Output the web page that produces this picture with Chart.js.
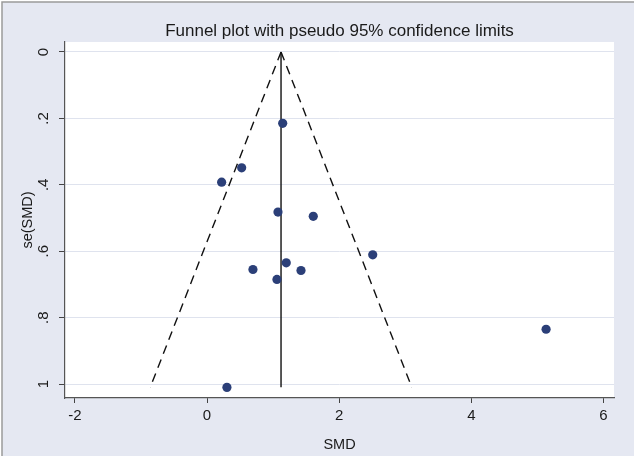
<!DOCTYPE html>
<html>
<head>
<meta charset="utf-8">
<script src="https://cdn.jsdelivr.net/npm/chart.js@4/dist/chart.umd.min.js"></script>
<style>
  html, body { margin: 0; padding: 0; background: #ffffff; }
  #wrap { width: 634px; height: 460px; position: relative; }
</style>
</head>
<body>
<div id="wrap"><canvas id="c" width="634" height="460"></canvas></div>
<script>
// ---- data ----
const smd    = [1.145, 0.524, 0.221, 1.074, 1.608, 2.508, 0.695, 1.199, 1.422, 1.058, 5.132, 0.301];
const seSmd  = [0.215, 0.349, 0.392, 0.482, 0.495, 0.611, 0.655, 0.635, 0.658, 0.685, 0.835, 1.010];
const funnelSe    = [0, 1.01];
const funnelLower = [1.12, -0.86];
const funnelUpper = [1.12, 3.10];
const pooledSmd   = [1.12, 1.12];
const xTicks = [-2, 0, 2, 4, 6];
const xTickLabels = ['-2', '0', '2', '4', '6'];
const yTicks = [0, 0.2, 0.4, 0.6, 0.8, 1];
const yTickLabels = ['0', '.2', '.4', '.6', '.8', '1'];
const titleText = 'Funnel plot with pseudo 95% confidence limits';
const xTitle = 'SMD';
const yTitle = 'se(SMD)';

const pts = (xs, ys) => xs.map((x, i) => ({ x: x, y: ys[i] }));

const bgPlugin = {
  id: 'bg',
  beforeDraw(chart) {
    const ctx = chart.ctx, a = chart.chartArea;
    ctx.save();
    ctx.fillStyle = '#ffffff';
    ctx.fillRect(0, 0, chart.width, chart.height);
    ctx.fillStyle = '#e5e8f2';
    ctx.fillRect(2, 2, chart.width - 2, 454);
    ctx.strokeStyle = '#9a9a9a';
    ctx.lineWidth = 1.5;
    ctx.beginPath();
    ctx.moveTo(2, 456); ctx.lineTo(2, 2); ctx.lineTo(chart.width, 2);
    ctx.stroke();
    ctx.fillStyle = '#ffffff';
    ctx.fillRect(a.left, a.top, a.right - a.left, a.bottom - a.top);
    ctx.restore();
  }
};

const font = 'Liberation Sans, Arial, Helvetica, sans-serif';

new Chart(document.getElementById('c'), {
  type: 'scatter',
  data: {
    datasets: [
      {
        data: pts(smd, seSmd),
        backgroundColor: '#2b3f78',
        borderColor: '#2b3f78',
        pointRadius: 4.6,
        pointBorderWidth: 0,
        order: 0
      },
      {
        type: 'line',
        data: pts(funnelLower, funnelSe),
        borderColor: '#111111',
        borderWidth: 1.4,
        borderDash: [9, 6],
        pointRadius: 0,
        fill: false,
        order: 1
      },
      {
        type: 'line',
        data: pts(funnelUpper, funnelSe),
        borderColor: '#111111',
        borderWidth: 1.4,
        borderDash: [9, 6],
        pointRadius: 0,
        fill: false,
        order: 1
      },
      {
        type: 'line',
        data: pts(pooledSmd, funnelSe),
        borderColor: '#111111',
        borderWidth: 1.4,
        pointRadius: 0,
        fill: false,
        order: 1
      }
    ]
  },
  options: {
    responsive: false,
    animation: false,
    events: [],
    layout: { padding: { left: 0, right: 20, top: 0, bottom: 0 } },
    plugins: {
      legend: { display: false },
      tooltip: { enabled: false },
      title: {
        display: true,
        fullSize: false,
        text: titleText,
        color: '#1a1a1a',
        font: { family: font, size: 17, weight: 'normal', lineHeight: 1.2 },
        padding: { top: 21, bottom: 0.6 }
      }
    },
    scales: {
      x: {
        type: 'linear',
        min: -2.15,
        max: 6.16,
        afterBuildTicks: s => { s.ticks = xTicks.map(v => ({ value: v })); },
        afterFit: s => { s.height = 62; },
        ticks: {
          color: '#1a1a1a',
          font: { family: font, size: 15 },
          padding: 4,
          maxRotation: 0,
          callback: (v) => xTickLabels[xTicks.indexOf(v)]
        },
        grid: { drawOnChartArea: false, drawTicks: true, tickLength: 5, tickColor: '#444444', tickWidth: 1 },
        border: { display: true, color: '#555555', width: 1.2 },
        title: {
          display: true,
          text: xTitle,
          color: '#1a1a1a',
          font: { family: font, size: 14.5, lineHeight: 1.2 },
          padding: { top: 0, bottom: 6.5 }
        }
      },
      y: {
        type: 'linear',
        reverse: true,
        min: -0.03,
        max: 1.042,
        afterBuildTicks: s => { s.ticks = yTicks.map(v => ({ value: v })); },
        afterFit: s => { s.width = 65; },
        ticks: {
          color: '#1a1a1a',
          font: { family: font, size: 15 },
          padding: 9,
          minRotation: 90,
          maxRotation: 90,
          crossAlign: 'center',
          callback: (v) => yTickLabels[yTicks.indexOf(v)]
        },
        grid: { color: '#dfe3ee', lineWidth: 1, drawTicks: true, tickLength: 6, tickColor: '#444444', tickWidth: 1 },
        border: { display: true, color: '#555555', width: 1.2 },
        title: {
          display: true,
          text: yTitle,
          color: '#1a1a1a',
          font: { family: font, size: 14.5, lineHeight: 1.2 },
          padding: { top: 19, bottom: 0 }
        }
      }
    }
  },
  plugins: [bgPlugin]
});
</script>
</body>
</html>
